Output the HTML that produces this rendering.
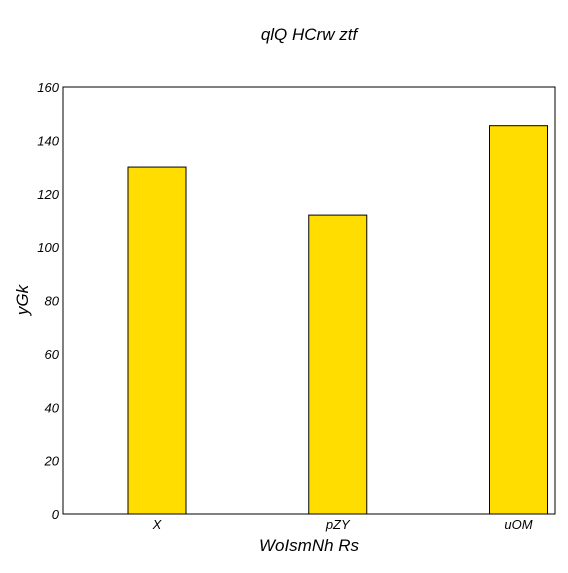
<!DOCTYPE html>
<html><head><meta charset="utf-8"><style>
body{margin:0;background:#fff;}
text{font-family:"Liberation Sans",sans-serif;font-style:italic;fill:#000;}
</style></head><body>
<svg width="568" height="568" xmlns="http://www.w3.org/2000/svg">
<text x="309" y="40" font-size="17" text-anchor="middle">qlQ HCrw ztf</text>
<g id="plot"></g>
<text x="309" y="551" font-size="17" text-anchor="middle">WoIsmNh Rs</text>
<text x="0" y="0" font-size="17" text-anchor="middle" transform="translate(28,300) rotate(-90)">yGk</text>
</svg>
<script>
const categories=["X","pZY","uOM"];
const values=[130,112,145.5];
const yTicks=[0,20,40,60,80,100,120,140,160];
const L=63,R=555,T=87,B=514,ymax=160;
const y=v=>B-(B-T)*v/ymax;
const xc=i=>157+180.75*i;
const bw=58;
const g=document.getElementById('plot');
const ns="http://www.w3.org/2000/svg";
function mk(t,a){const e=document.createElementNS(ns,t);for(const k in a)e.setAttribute(k,a[k]);g.appendChild(e);return e;}
values.forEach((v,i)=>{
 const r=mk('rect',{x:xc(i)-bw/2,y:y(v),width:bw,height:B-y(v),fill:'#ffdd00',stroke:'#000','stroke-width':1});
 
 
 const t=mk('text',{x:xc(i),y:B+15,'font-size':13,'text-anchor':'middle'});
 t.textContent=categories[i];
 
 
});
yTicks.forEach(v=>{
 const t=mk('text',{x:L-4,y:y(v)+5,'font-size':13,'text-anchor':'end'});
 t.textContent=v;
 
 
});
const f=mk('rect',{x:L,y:T,width:R-L,height:B-T,fill:'none',stroke:'#000','stroke-width':1});


</script>
</body></html>
